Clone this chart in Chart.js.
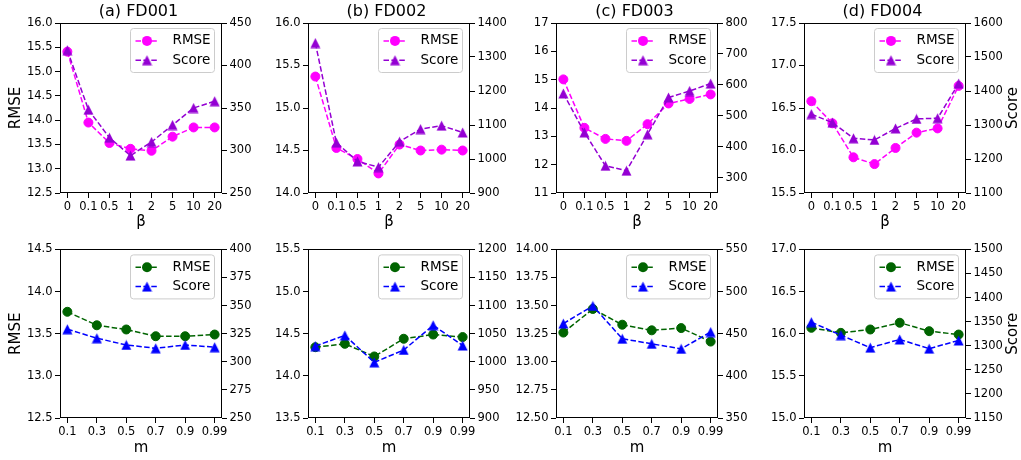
<!DOCTYPE html>
<html>
<head>
<meta charset="utf-8">
<script src="https://cdn.jsdelivr.net/npm/chart.js@4.4.1/dist/chart.umd.min.js"></script>
<style>
  html, body { margin: 0; padding: 0; background: #fff; }
  body { width: 1021px; height: 460px; position: relative; overflow: hidden; }
  canvas { position: absolute; }
</style>
</head>
<body>
<script>
// ---------- data ----------
const betaLabels = ['0', '0.1', '0.5', '1', '2', '5', '10', '20'];
const mLabels = ['0.1', '0.3', '0.5', '0.7', '0.9', '0.99'];

const rmseBeta001 = [15.41, 13.95, 13.53, 13.41, 13.37, 13.66, 13.85, 13.85];
const scoreBeta001 = [418, 348, 315, 294, 310, 330, 350, 358];
const rmseBeta002 = [15.37, 14.53, 14.40, 14.23, 14.57, 14.50, 14.51, 14.50];
const scoreBeta002 = [1341, 1048, 993, 976, 1051, 1088, 1098, 1078];
const rmseBeta003 = [15.01, 13.30, 12.91, 12.84, 13.43, 14.16, 14.32, 14.48];
const scoreBeta003 = [572, 446, 338, 322, 440, 559, 580, 604];
const rmseBeta004 = [16.58, 16.32, 15.92, 15.84, 16.03, 16.21, 16.26, 16.76];
const scoreBeta004 = [1332, 1307, 1261, 1256, 1290, 1318, 1320, 1422];

const rmseM001 = [13.76, 13.60, 13.55, 13.47, 13.47, 13.49];
const scoreM001 = [329, 321, 315, 312, 315, 313];
const rmseM002 = [14.34, 14.38, 14.23, 14.44, 14.49, 14.46];
const scoreM002 = [1028, 1047, 999, 1021, 1065, 1029];
const rmseM003 = [13.26, 13.47, 13.33, 13.28, 13.30, 13.18];
const scoreM003 = [462, 483, 444, 438, 432, 452];
const rmseM004 = [16.07, 16.01, 16.05, 16.13, 16.03, 15.99];
const scoreM004 = [1349, 1322, 1296, 1313, 1294, 1311];

// ---------- tick labels ----------
const rmseTicksBeta001 = [12.5, 13.0, 13.5, 14.0, 14.5, 15.0, 15.5, 16.0];
const scoreTicksBeta001 = [250, 300, 350, 400, 450];
const rmseTicksBeta002 = [14.0, 14.5, 15.0, 15.5, 16.0];
const scoreTicksBeta002 = [900, 1000, 1100, 1200, 1300, 1400];
const rmseTicksBeta003 = [11, 12, 13, 14, 15, 16, 17];
const scoreTicksBeta003 = [300, 400, 500, 600, 700, 800];
const rmseTicksBeta004 = [15.5, 16.0, 16.5, 17.0, 17.5];
const scoreTicksBeta004 = [1100, 1200, 1300, 1400, 1500, 1600];

const rmseTicksM001 = [12.5, 13.0, 13.5, 14.0, 14.5];
const scoreTicksM001 = [250, 275, 300, 325, 350, 375, 400];
const rmseTicksM002 = [13.5, 14.0, 14.5, 15.0, 15.5];
const scoreTicksM002 = [900, 950, 1000, 1050, 1100, 1150, 1200];
const rmseTicksM003 = [12.50, 12.75, 13.00, 13.25, 13.50, 13.75, 14.00];
const scoreTicksM003 = [350, 400, 450, 500, 550];
const rmseTicksM004 = [15.0, 15.5, 16.0, 16.5, 17.0];
const scoreTicksM004 = [1150, 1200, 1250, 1300, 1350, 1400, 1450, 1500];

Chart.defaults.font.family = '"DejaVu Sans", sans-serif';
Chart.defaults.color = '#000';

const TICK_FONT = 11.5;

// panel table built from the arrays above
const panels = [
  { row: 0, col: 0, title: '(a) FD001', cats: betaLabels, rmse: rmseBeta001, score: scoreBeta001, rTicks: rmseTicksBeta001, sTicks: scoreTicksBeta001, sMin: 250, dec: 1 },
  { row: 0, col: 1, title: '(b) FD002', cats: betaLabels, rmse: rmseBeta002, score: scoreBeta002, rTicks: rmseTicksBeta002, sTicks: scoreTicksBeta002, sMin: 900, dec: 1 },
  { row: 0, col: 2, title: '(c) FD003', cats: betaLabels, rmse: rmseBeta003, score: scoreBeta003, rTicks: rmseTicksBeta003, sTicks: scoreTicksBeta003, sMin: 250, dec: 0 },
  { row: 0, col: 3, title: '(d) FD004', cats: betaLabels, rmse: rmseBeta004, score: scoreBeta004, rTicks: rmseTicksBeta004, sTicks: scoreTicksBeta004, sMin: 1100, dec: 1 },
  { row: 1, col: 0, title: '', cats: mLabels, rmse: rmseM001, score: scoreM001, rTicks: rmseTicksM001, sTicks: scoreTicksM001, sMin: 250, dec: 1 },
  { row: 1, col: 1, title: '', cats: mLabels, rmse: rmseM002, score: scoreM002, rTicks: rmseTicksM002, sTicks: scoreTicksM002, sMin: 900, dec: 1 },
  { row: 1, col: 2, title: '', cats: mLabels, rmse: rmseM003, score: scoreM003, rTicks: rmseTicksM003, sTicks: scoreTicksM003, sMin: 350, dec: 2 },
  { row: 1, col: 3, title: '', cats: mLabels, rmse: rmseM004, score: scoreM004, rTicks: rmseTicksM004, sTicks: scoreTicksM004, sMin: 1150, dec: 1 }
];

const rows = [
  { top: 0, height: 232, xTitle: 'β', colors: ['#ff00ff', '#9400d3'] },
  { top: 240, height: 218, xTitle: 'm', colors: ['#006400', '#0000ff'] }
];

const plotLefts = [60, 308, 556, 804];
const AXIS_L = 60, PLOT_W = 162, AXIS_R = 55;

// matplotlib style '^' marker as an image
function triangleImage(color) {
  const c = document.createElement('canvas');
  c.width = 11; c.height = 11;
  const g = c.getContext('2d');
  g.beginPath();
  g.moveTo(5.5, 0.5);
  g.lineTo(0.5, 10.5);
  g.lineTo(10.5, 10.5);
  g.closePath();
  g.fillStyle = color;
  g.fill();
  return c;
}

// box around the plot
const frame = {
  id: 'frame',
  afterDraw(chart) {
    const { ctx, chartArea: a } = chart;
    ctx.save();
    ctx.strokeStyle = '#000';
    ctx.lineWidth = 1;
    ctx.strokeRect(Math.round(a.left) + 0.5, Math.round(a.top) + 0.5,
      Math.round(a.right) - Math.round(a.left) - 1, Math.round(a.bottom) - Math.round(a.top) - 1);
    ctx.restore();
  }
};

// legend box in the upper right corner, like matplotlib
const boxLegend = {
  id: 'boxLegend',
  afterDraw(chart) {
    const { ctx, chartArea: a } = chart;
    const w = 84, h = 44, r = 3;
    const x0 = a.right - 7.5 - w, y0 = a.top + 5.5;
    ctx.save();
    ctx.beginPath();
    ctx.moveTo(x0 + r, y0);
    ctx.lineTo(x0 + w - r, y0);
    ctx.arcTo(x0 + w, y0, x0 + w, y0 + r, r);
    ctx.lineTo(x0 + w, y0 + h - r);
    ctx.arcTo(x0 + w, y0 + h, x0 + w - r, y0 + h, r);
    ctx.lineTo(x0 + r, y0 + h);
    ctx.arcTo(x0, y0 + h, x0, y0 + h - r, r);
    ctx.lineTo(x0, y0 + r);
    ctx.arcTo(x0, y0, x0 + r, y0, r);
    ctx.closePath();
    ctx.fillStyle = 'rgba(255,255,255,0.8)';
    ctx.fill();
    ctx.strokeStyle = '#cccccc';
    ctx.lineWidth = 1;
    ctx.stroke();

    chart.data.datasets.forEach((ds, i) => {
      const cy = y0 + 12.4 + i * 19.3;
      ctx.setLineDash(ds.borderDash);
      ctx.strokeStyle = ds.borderColor;
      ctx.lineWidth = ds.borderWidth;
      ctx.beginPath();
      ctx.moveTo(x0 + 5, cy);
      ctx.lineTo(x0 + 27, cy);
      ctx.stroke();
      ctx.setLineDash([]);
      const mx = x0 + 16.5;
      if (ds.pointStyle instanceof HTMLCanvasElement) {
        ctx.drawImage(ds.pointStyle, mx - ds.pointStyle.width / 2, cy - ds.pointStyle.height / 2);
      } else {
        ctx.beginPath();
        ctx.arc(mx, cy, ds.pointRadius + 0.5, 0, Math.PI * 2);
        ctx.fillStyle = ds.borderColor;
        ctx.fill();
      }
      ctx.fillStyle = '#000';
      ctx.font = '13.5px "DejaVu Sans"';
      ctx.textBaseline = 'middle';
      ctx.textAlign = 'left';
      ctx.fillText(ds.label, x0 + 42, cy);
    });
    ctx.restore();
  }
};

// right axis title reading bottom to top (matplotlib twinx label)
const rightTitle = {
  id: 'rightTitle',
  afterDraw(chart, args, opts) {
    if (!opts.text) return;
    const { ctx, chartArea: a } = chart;
    ctx.save();
    ctx.translate(chart.width - 8, (a.top + a.bottom) / 2);
    ctx.rotate(-Math.PI / 2);
    ctx.font = '15px "DejaVu Sans"';
    ctx.fillStyle = '#000';
    ctx.textAlign = 'center';
    ctx.textBaseline = 'middle';
    ctx.fillText(opts.text, 0, 0);
    ctx.restore();
  }
};

panels.forEach(p => {
  const row = rows[p.row];
  const cv = document.createElement('canvas');
  cv.width = AXIS_L + PLOT_W + AXIS_R;
  cv.height = row.height;
  cv.style.left = (plotLefts[p.col] - AXIS_L) + 'px';
  cv.style.top = row.top + 'px';
  document.body.appendChild(cv);

  const n = p.cats.length;
  const margin = (n - 1) * 0.05;
  const tickGrid = { display: true, drawOnChartArea: false, drawTicks: true, tickLength: 5, color: '#000' };
  const xyData = vals => vals.map((v, i) => ({ x: i, y: v }));

  new Chart(cv, {
    type: 'line',
    data: {
      datasets: [
        {
          label: 'RMSE', yAxisID: 'y', order: 1,
          data: xyData(p.rmse),
          borderColor: row.colors[0], backgroundColor: row.colors[0],
          borderWidth: 1.5, borderDash: [5.5, 2.4],
          pointStyle: 'circle', pointRadius: 4.5, pointBorderWidth: 1,
          pointBackgroundColor: row.colors[0], pointBorderColor: row.colors[0]
        },
        {
          label: 'Score', yAxisID: 'y1', order: 0,
          data: xyData(p.score),
          borderColor: row.colors[1], backgroundColor: row.colors[1],
          borderWidth: 1.5, borderDash: [5.5, 2.4],
          pointStyle: triangleImage(row.colors[1]), pointRadius: 5
        }
      ]
    },
    options: {
      responsive: false,
      animation: false,
      events: [],
      layout: { padding: { top: p.row === 0 ? 0 : 8, left: 0, right: 0, bottom: 0 } },
      plugins: {
        legend: { display: false },
        tooltip: { enabled: false },
        title: {
          display: p.row === 0,
          text: p.title,
          font: { size: 16, weight: 'normal' },
          color: '#000',
          padding: { top: 2, bottom: 1.8 }
        },
        rightTitle: { text: p.col === 3 ? 'Score' : '' }
      },
      scales: {
        x: {
          type: 'linear',
          min: -margin, max: n - 1 + margin,
          grid: tickGrid,
          border: { display: false },
          afterBuildTicks: s => { s.ticks = p.cats.map((_, i) => ({ value: i })); },
          afterFit: s => { s.height = p.row === 0 ? 39 : 40; },
          ticks: {
            font: { size: TICK_FONT }, padding: 2, maxRotation: 0, autoSkip: false,
            callback: (v, i) => p.cats[i]
          },
          title: { display: true, text: row.xTitle, font: { size: 15 }, padding: { top: 0, bottom: 1 } }
        },
        y: {
          type: 'linear', position: 'left',
          min: p.rTicks[0], max: p.rTicks[p.rTicks.length - 1],
          grid: tickGrid,
          border: { display: false },
          afterBuildTicks: s => { s.ticks = p.rTicks.map(v => ({ value: v })); },
          afterFit: s => { s.width = AXIS_L; },
          ticks: { font: { size: TICK_FONT }, padding: 2.5, callback: v => v.toFixed(p.dec) },
          title: { display: p.col === 0, text: 'RMSE', font: { size: 15 }, padding: { top: 7, bottom: 0 } }
        },
        y1: {
          type: 'linear', position: 'right',
          min: p.sMin, max: p.sTicks[p.sTicks.length - 1],
          grid: tickGrid,
          border: { display: false },
          afterBuildTicks: s => { s.ticks = p.sTicks.map(v => ({ value: v })); },
          afterFit: s => { s.width = AXIS_R; },
          ticks: { font: { size: TICK_FONT }, padding: 2.5, callback: v => String(v) }
        }
      }
    },
    plugins: [frame, boxLegend, rightTitle]
  });
});
</script>
</body>
</html>
